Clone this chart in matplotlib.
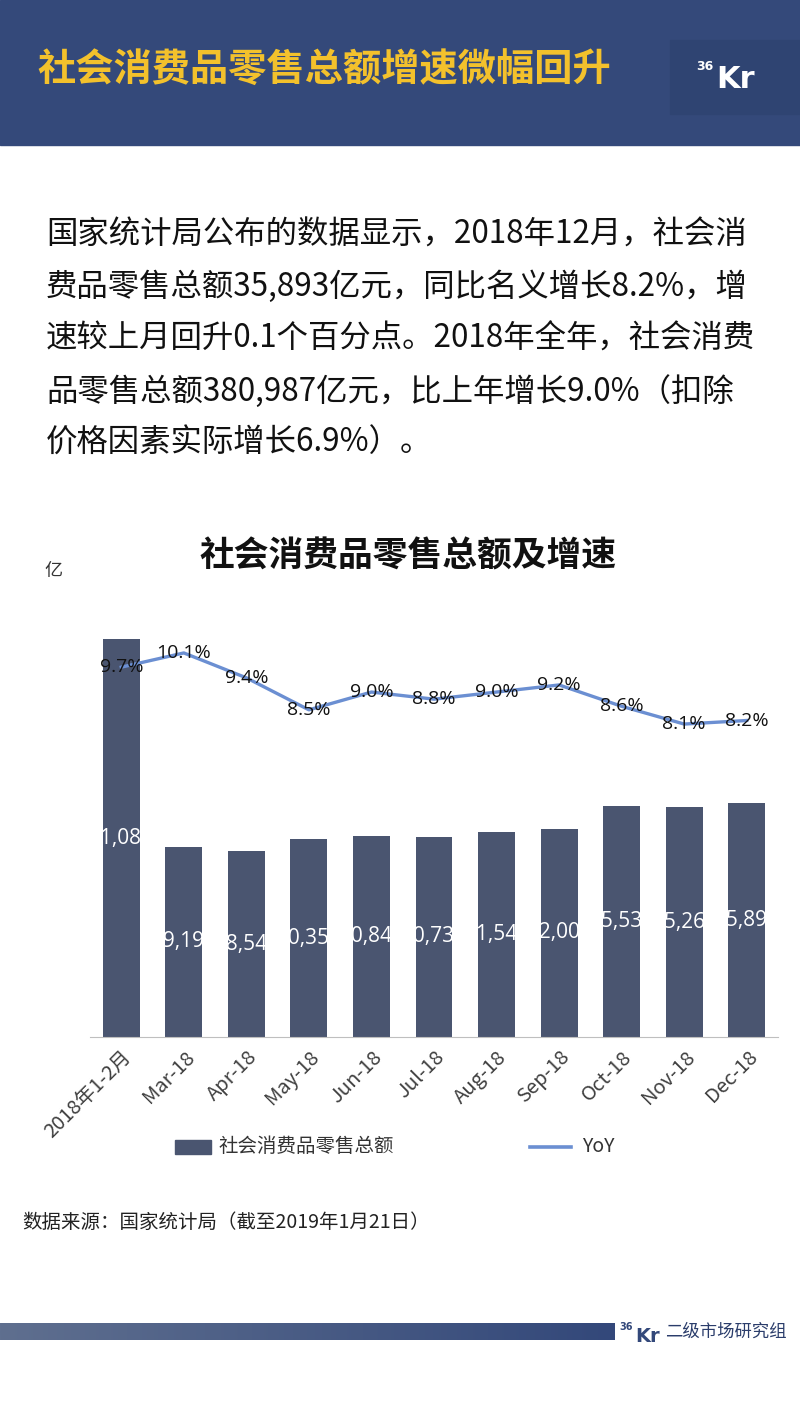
import matplotlib
matplotlib.use("Agg")
import matplotlib.pyplot as plt
from matplotlib.patches import Rectangle
import numpy as np

plt.rcParams['font.family'] = ['Noto Sans CJK SC', 'DejaVu Sans']

# 数据
meses = ['2018年1-2月', 'Mar-18', 'Apr-18', 'May-18', 'Jun-18', 'Jul-18',
         'Aug-18', 'Sep-18', 'Oct-18', 'Nov-18', 'Dec-18']
ventas = [61082, 29194, 28542, 30359, 30842, 30734, 31542, 32005, 35534, 35260, 35893]
yoy = [9.7, 10.1, 9.4, 8.5, 9.0, 8.8, 9.0, 9.2, 8.6, 8.1, 8.2]

titulo = '社会消费品零售总额增速微幅回升'
parrafo = ['国家统计局公布的数据显示，2018年12月，社会消',
           '费品零售总额35,893亿元，同比名义增长8.2%，增',
           '速较上月回升0.1个百分点。2018年全年，社会消费',
           '品零售总额380,987亿元，比上年增长9.0%（扣除',
           '价格因素实际增长6.9%）。']
titulo_grafico = '社会消费品零售总额及增速'
fuente = '数据来源：国家统计局（截至2019年1月21日）'

W, H = 800, 1423
fig = plt.figure(figsize=(W / 100, H / 100), dpi=100)
fig.patch.set_facecolor('white')


def fy(py):
    # pixel y (desde arriba) -> fraccion de figura
    return 1 - py / H


def fx(px):
    return px / W


# cabecera azul
fig.add_artist(Rectangle((0, fy(145)), 1, 145 / H, transform=fig.transFigure,
                         color='#34497a', zorder=0))
fig.add_artist(Rectangle((fx(670), fy(114)), 130 / W, 74 / H, transform=fig.transFigure,
                         color='#2f4472', zorder=1))
fig.text(fx(37), fy(70), titulo, color='#f3c12c', fontsize=27.5, fontweight='bold',
         va='center', ha='left')
fig.text(fx(713), fy(66), '36', color='white', fontsize=9, fontweight='bold',
         va='center', ha='right', family='DejaVu Sans')
fig.text(fx(716), fy(80), 'Kr', color='white', fontsize=22, fontweight='bold',
         va='center', ha='left', family='DejaVu Sans')

# parrafo
for i, linea in enumerate(parrafo):
    fig.text(fx(46), fy(235 + i * 52), linea, fontsize=22.6, color='#111111',
             va='center', ha='left')

# titulo del grafico
fig.text(fx(408), fy(556), titulo_grafico, fontsize=25, fontweight='bold',
         color='#111111', va='center', ha='center')
fig.text(fx(44), fy(571), '亿', fontsize=13, color='#333333', va='center', ha='left')

# grafico
ax = fig.add_axes([fx(90), fy(1037), 688 / W, (1037 - 638) / H])
index = np.arange(len(meses))
barras = ax.bar(index, ventas, 0.59, color='#4a5570', zorder=2)
ax.set_xlim(-0.5, len(meses) - 0.5)
ax.set_ylim(0, 61300)
ax.set_yticks([])
for s in ['top', 'left', 'right']:
    ax.spines[s].set_visible(False)
ax.spines['bottom'].set_color('#bfbfbf')
ax.set_xticks(index)
ax.set_xticklabels(meses, rotation=45, ha='right', rotation_mode='anchor',
                   fontsize=14.5, color='#404040')
ax.tick_params(axis='x', length=0, pad=7)

for b, v in zip(barras, ventas):
    t = ax.text(b.get_x() + b.get_width() / 2, v / 2, f'{v:,}', color='white',
                fontsize=15, ha='center', va='center', family='Open Sans', zorder=3)
    t.set_clip_path(b)

ax2 = ax.twinx()
ax2.plot(index, yoy, color='#6b8fd2', linewidth=2.4, zorder=3)
ax2.set_ylim(-0.7, 10.52)
ax2.set_yticks([])
for s in ['top', 'left', 'right', 'bottom']:
    ax2.spines[s].set_visible(False)
for x, v in zip(index, yoy):
    ax2.text(x, v, f'{v:.1f}%', fontsize=14, ha='center', va='center',
             color='#111111', family='Open Sans', zorder=4)

# leyenda
fig.add_artist(Rectangle((fx(175), fy(1154)), 36 / W, 14 / H, transform=fig.transFigure,
                         color='#4a5570'))
fig.text(fx(218), fy(1147), '社会消费品零售总额', fontsize=14, color='#333333',
         va='center', ha='left')
fig.add_artist(plt.Line2D([fx(530), fx(571)], [fy(1147), fy(1147)],
                          transform=fig.transFigure, color='#6b8fd2', linewidth=2.6))
fig.text(fx(582), fy(1147), 'YoY', fontsize=14, color='#333333', va='center', ha='left')

# fuente
fig.text(fx(22), fy(1222), fuente, fontsize=14, color='#222222', va='center', ha='left')

# pie con degradado
grad = np.linspace(0, 1, 256).reshape(1, -1)
ax_pie = fig.add_axes([0, fy(1340), 615 / W, 17 / H])
cmap = matplotlib.colors.LinearSegmentedColormap.from_list('pie', ['#5f6f8f', '#33487a'])
ax_pie.imshow(grad, aspect='auto', cmap=cmap)
ax_pie.axis('off')
fig.text(fx(633), fy(1327), '36', color='#33487a', fontsize=7, fontweight='bold',
         va='center', ha='right', family='DejaVu Sans')
fig.text(fx(635), fy(1336), 'Kr', color='#33487a', fontsize=14, fontweight='bold',
         va='center', ha='left', family='DejaVu Sans')
fig.text(fx(665), fy(1332), '二级市场研究组', fontsize=12.5, color='#2b3d6b',
         va='center', ha='left')

plt.savefig('out.png', dpi=100)
